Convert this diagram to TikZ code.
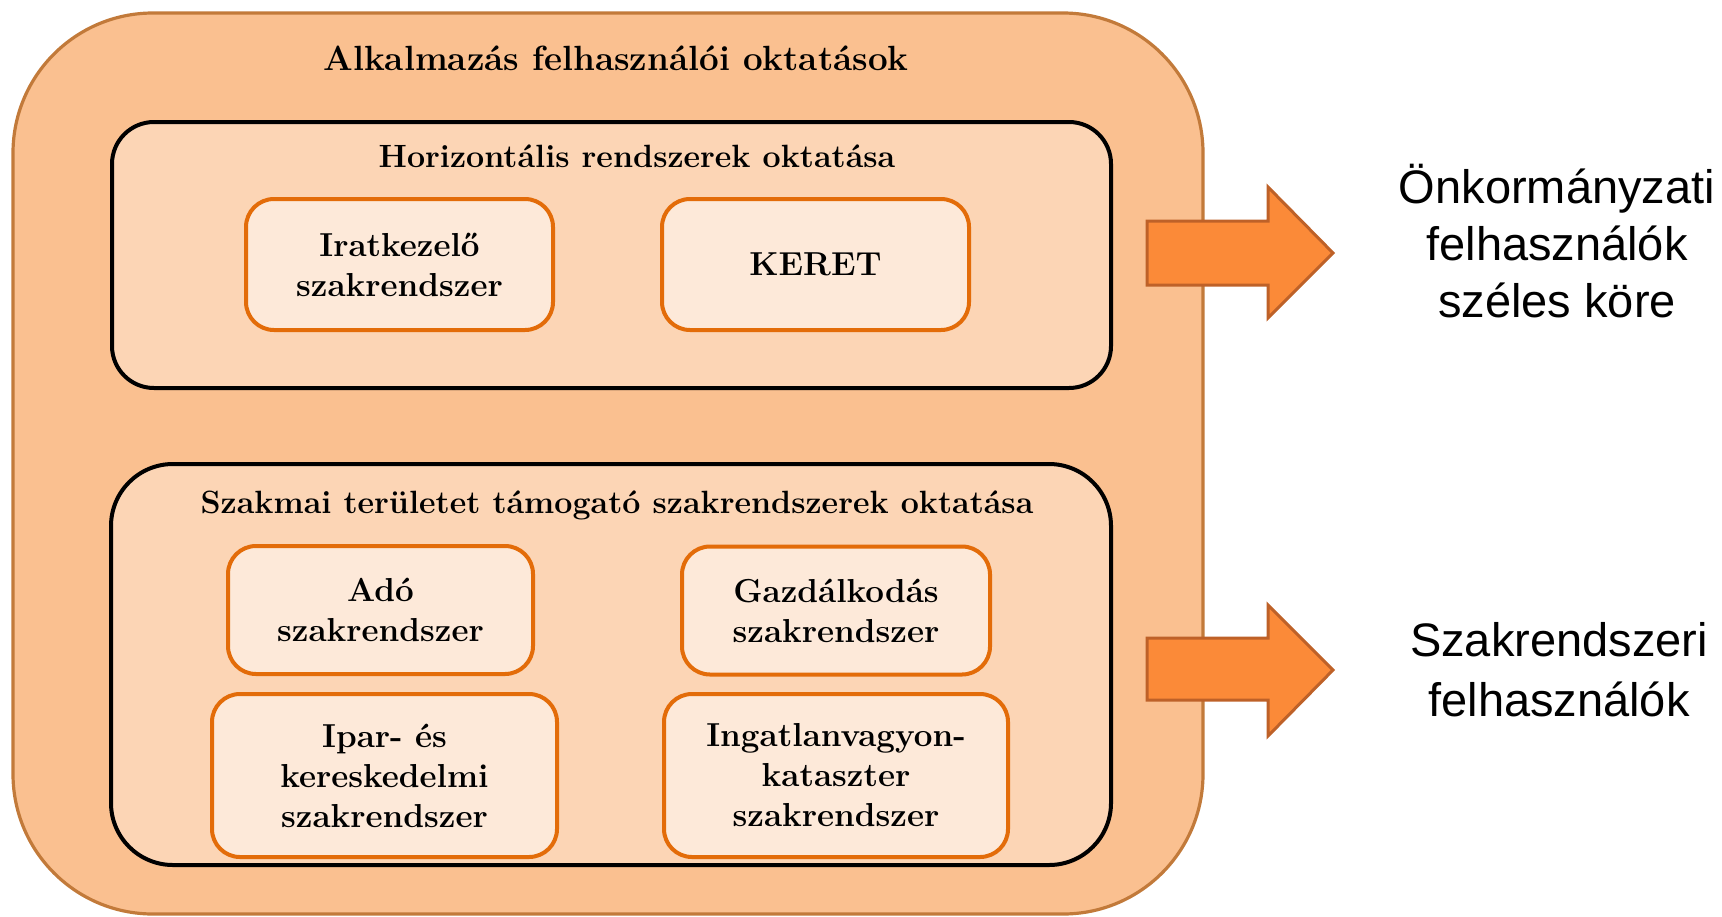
\documentclass[tikz,border=0pt]{standalone}
\usepackage{fontspec}
\newfontfamily\arialfont{Liberation Sans}
\definecolor{outerfill}{HTML}{FAC090}
\definecolor{outerdraw}{HTML}{C27A3A}
\definecolor{midfill}{HTML}{FCD5B5}
\definecolor{innerfill}{HTML}{FDE9D9}
\definecolor{innerdraw}{HTML}{E36C09}
\definecolor{arrowfill}{HTML}{FB8A38}
\definecolor{arrowdraw}{HTML}{BE6128}
\tikzset{
  outerbox/.style={draw=outerdraw, fill=outerfill, line width=1.6pt, rounded corners=70pt, inner sep=0pt},
  groupbox/.style={draw=black, fill=midfill, line width=2pt, inner sep=0pt},
  itembox/.style={draw=innerdraw, fill=innerfill, line width=2pt, rounded corners=14pt, align=center, inner sep=0pt,
     font=\bfseries\fontsize{16.6}{20}\selectfont},
  heading/.style={anchor=base, inner sep=0pt, font=\bfseries\fontsize{16.1}{20}\selectfont},
  usertext/.style={align=center, inner sep=0pt, font=\arialfont\fontsize{23.5}{28.5}\selectfont},
  blockarrow/.style={draw=arrowdraw, fill=arrowfill, line width=1.5pt}
}
\begin{document}
\begin{tikzpicture}[x=0.5pt,y=-0.5pt]
\useasboundingbox (0,0) rectangle (1722,916);
% outer container
\node[outerbox, minimum width=595pt, minimum height=450.5pt] (outer) at (608,463.5) {};
\node[heading, font=\bfseries\fontsize{17.5}{20}\selectfont] (title) at (616,70) {Alkalmazás felhasználói oktatások};
% group 1
\node[groupbox, rounded corners=21pt, minimum width=499.5pt, minimum height=133pt] (g1) at (611.5,255) {};
\node[heading] (g1title) at (637,167) {Horizontális rendszerek oktatása};
\node[itembox, minimum width=153.5pt, minimum height=65.5pt] (irat) at (399.5,264.5) {Iratkezelő\\szakrendszer};
\node[itembox, minimum width=153.5pt, minimum height=65.5pt] (keret) at (815.5,264.5) {KERET};
% group 2
\node[groupbox, rounded corners=31pt, minimum width=500pt, minimum height=200.5pt] (g2) at (611,664.5) {};
\node[heading] (g2title) at (617,513) {Szakmai területet támogató szakrendszerek oktatása};
\node[itembox, minimum width=152.5pt, minimum height=64pt] (ado) at (380.5,610) {Adó\\szakrendszer};
\node[itembox, minimum width=154pt, minimum height=64pt] (gazd) at (836,610.5) {Gazdálkodás\\szakrendszer};
\node[itembox, minimum width=172.5pt, minimum height=81.5pt] (ipar) at (384.5,775.5) {Ipar- és\\kereskedelmi\\szakrendszer};
\node[itembox, minimum width=172pt, minimum height=81.5pt] (ingat) at (836,775.5) {Ingatlanvagyon-\\kataszter\\szakrendszer};
% arrows
\draw[blockarrow] (1147,221) -- (1268,221) -- (1268,187) -- (1333,253) -- (1268,318) -- (1268,285) -- (1147,285) -- cycle;
\draw[blockarrow] (1147,638) -- (1268,638) -- (1268,605) -- (1333,670) -- (1268,736) -- (1268,700) -- (1147,700) -- cycle;
% user groups
\node[usertext] (users1) at (1557,241) {Önkormányzati\\felhasználók\\széles köre};
\node[usertext, font=\arialfont\fontsize{23.5}{30}\selectfont] (users2) at (1559,670) {Szakrendszeri\\felhasználók};
\end{tikzpicture}
\end{document}
